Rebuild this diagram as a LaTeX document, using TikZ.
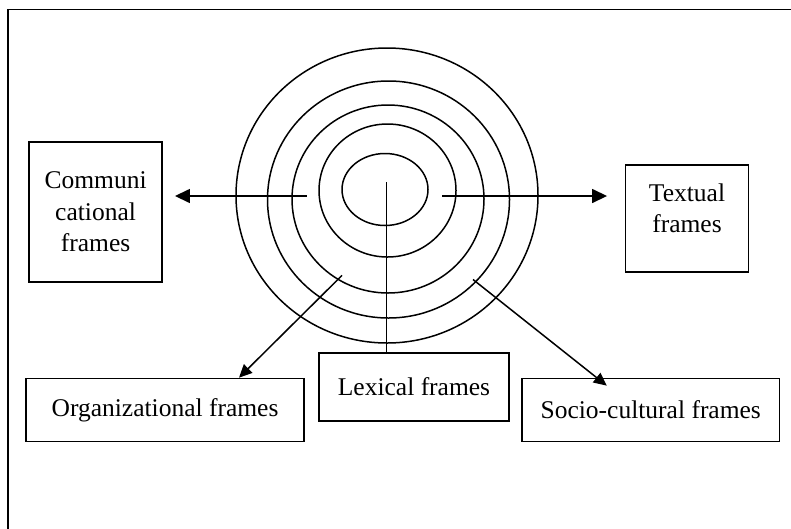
\documentclass[tikz,border=0pt]{standalone}
\usepackage{fontspec}
\setmainfont{Liberation Serif}
\usetikzlibrary{arrows.meta,calc}

\begin{document}
\begin{tikzpicture}[x=1pt,y=-1pt,line width=1.5pt,
			>={Triangle[length=15pt,width=14pt]},
			ring/.style={line width=1.5pt},
			frame box/.style={draw,line width=1.7pt,align=center,inner sep=0pt,
				font=\fontsize{25.5}{31.5}\selectfont},
			small tip/.style={>={Triangle[length=13pt,width=12pt]}}]
			\useasboundingbox (0,0) rectangle (791,528);
			\clip (0,0) rectangle (791,528);
			\draw[line width=1.8pt] (7.6,600) -- (7.6,9.5) -- (900,9.5);
			
			% rings
			\draw[ring] (387,195.5) ellipse [x radius=151pt, y radius=147.5pt];
			\draw[ring] (388.5,199.5) ellipse [x radius=121pt, y radius=118.5pt];
			\draw[ring] (388,199) ellipse [x radius=96pt, y radius=94pt];
			\draw[ring] (387.5,190.5) ellipse [x radius=68.5pt, y radius=66.5pt];
			\draw[ring] (385,189.5) ellipse [x radius=43pt, y radius=36pt];
			
			% frames
			\node[frame box, minimum width=133pt, minimum height=140pt] (comm) at (95.6,212) {Communi\\cational\\frames};
			\node[frame box, minimum width=123pt, minimum height=107pt, text depth=21pt] (textual) at (687,218.5) {Textual\\frames};
			\node[frame box, minimum width=278pt, minimum height=63pt] (org) at (165,410) {Organizational frames};
			\node[frame box, minimum width=190pt, minimum height=67.5pt] (lex) at (414,387) {Lexical frames};
			\node[frame box, minimum width=257.5pt, minimum height=63pt] (socio) at (650.75,410) {Socio-cultural frames};
			
			\coordinate (hub) at (386.5,182);
			\coordinate (ringL) at (306.8,196);
			\coordinate (ringR) at (442,196);
			\coordinate (ringSW) at (342,275.4);
			\coordinate (ringSE) at (473,279.5);
			
			\draw (hub) -- (hub |- lex.north);
			\path (ringL) edge[->] ($(ringL -| comm.east)+(12,0)$)
			(ringR) edge[->] ($(ringR -| textual.west)+(-17.6,0)$)
			(ringSW) edge[->,small tip] ($(org.north)+(74,0)$)
			(ringSE) edge[->,small tip] ($(socio.north)+(-44,8)$);
		\end{tikzpicture}
\end{document}
